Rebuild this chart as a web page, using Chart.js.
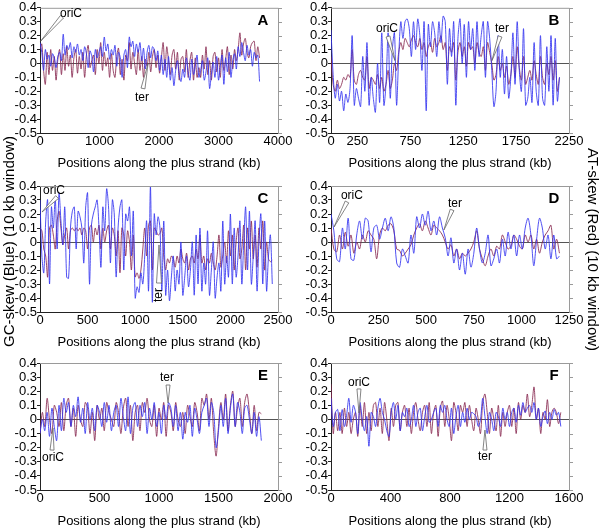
<!DOCTYPE html>
<html>
<head>
<meta charset="utf-8">
<script src="https://cdn.jsdelivr.net/npm/chart.js@4.4.0/dist/chart.umd.min.js"></script>
<style>
  body { margin: 0; width: 600px; height: 529px; background: #fff; position: relative; overflow: hidden;
         font-family: "Liberation Sans", Arial, sans-serif; }
  .panel { position: absolute; }
  .side { position: absolute; font-size: 15px; line-height: 17px; width: 17px; height: 230px;
          writing-mode: vertical-rl; text-align: center; white-space: nowrap; color: #000; }
</style>
</head>
<body>
<div class="panel" style="left:0;top:0;width:300px;height:171px"><canvas id="cA"></canvas></div>
<div class="panel" style="left:300px;top:0;width:300px;height:171px"><canvas id="cB"></canvas></div>
<div class="panel" style="left:0;top:172px;width:300px;height:178px"><canvas id="cC"></canvas></div>
<div class="panel" style="left:300px;top:172px;width:300px;height:178px"><canvas id="cD"></canvas></div>
<div class="panel" style="left:0;top:350px;width:300px;height:179px"><canvas id="cE"></canvas></div>
<div class="panel" style="left:300px;top:350px;width:300px;height:179px"><canvas id="cF"></canvas></div>
<div class="side" style="left:0;top:127px;transform:rotate(180deg)">GC-skew (Blue) (10 kb window)</div>
<div class="side" style="left:585px;top:135px">AT-skew (Red) (10 kb window)</div>
<script>
const BLUE = 'rgba(50,50,240,0.85)';
const RED = 'rgba(135,40,80,0.85)';
const FONT = '"Liberation Sans", Arial, sans-serif';
const X_TITLE = 'Positions along the plus strand (kb)';

const yTickValues = [-0.5, -0.4, -0.3, -0.2, -0.1, 0, 0.1, 0.2, 0.3, 0.4];

// panel A
const xTicksA = [0, 1000, 2000, 3000, 4000];
const stepA = 30;
const gcA = [.15,.08,-.05,.1,.03,.06,-.02,.07,.04,-.03,
  .05,.08,.02,.21,.06,.13,.1,.15,.04,.12,
  .08,.14,.06,.1,.02,.12,.07,-.03,.09,.05,
  -.06,.1,.04,.08,.12,.05,.19,.09,.14,.03,
  .1,.06,.13,-.02,.08,.04,-.1,.06,.1,-.03,
  .19,.12,.16,.05,.14,.08,.15,.02,.11,-.04,
  .08,.13,.04,.12,.1,.02,.09,-.05,.06,-.08,
  .03,-.1,.05,-.12,-.03,-.16,-.05,.02,-.08,-.13,
  -.04,-.1,.04,-.06,-.12,.03,-.08,-.02,.06,-.1,
  -.05,.02,-.12,-.06,.04,-.18,-.08,.01,-.1,.05,
  -.12,-.02,.06,-.15,.04,-.06,.08,-.1,.02,.07,
  -.04,.12,.05,.15,.08,.02,.13,.06,.1,-.02,
  .08,.04,.06,-.13];
const atA = [.1,.14,-.05,-.15,.08,-.08,.1,-.05,.05,-.12,
  .03,.1,-.08,.07,-.05,.12,-.02,.06,-.1,.04,
  .1,-.07,.05,-.04,.08,-.1,.06,.13,-.03,.02,
  .06,-.08,.1,0,.15,-.05,.08,-.02,.04,-.1,
  .07,-.05,-.1,.05,.11,-.08,.03,-.12,.06,.02,
  .15,-.04,.08,0,-.08,.1,-.05,.05,-.1,.03,
  -.02,.08,-.06,.05,.1,-.03,.06,-.07,.04,.15,
  -.05,.12,.02,-.08,.06,.1,-.04,.08,-.12,.03,
  .05,-.06,.1,-.1,.02,.08,-.12,.04,-.1,-.03,
  -.1,.06,-.04,.12,-.08,.02,-.12,.05,.08,-.06,
  .04,-.1,.1,-.05,.03,.12,-.08,.06,-.04,.1,
  .02,.1,.22,.06,.14,.18,.08,.04,.12,.15,
  .16,.02,.12,.04];

// panel B
const xTicksB = [0, 250, 750, 1250, 1750, 2250];
const stepB = 20;
const gcB = [.24,-.08,-.25,-.15,-.27,-.2,-.34,-.22,-.28,-.18,
  .2,-.3,-.18,-.25,-.31,.05,-.2,.15,-.3,-.1,
  -.25,-.35,0,-.28,.22,-.3,-.15,.22,-.25,.1,
  .22,-.3,.05,.3,.18,.3,.32,.25,.05,.3,
  .1,.32,.2,-.05,.3,-.34,.28,.12,.3,.22,
  .05,.3,.15,.34,.3,-.15,.25,.05,.3,-.3,
  .18,.32,0,.28,-.1,.3,.1,.25,-.05,.3,
  .05,.2,.3,-.1,.3,.18,-.05,-.31,-.2,.2,
  -.1,.1,-.22,.05,-.25,-.1,.22,-.15,.3,-.05,
  -.2,.25,-.3,-.25,-.1,-.28,.15,-.2,-.3,.2,
  -.25,-.3,.12,-.2,.2,-.3,.18,-.27,-.1];
const atB = [.05,-.15,-.2,-.12,-.18,-.15,-.1,-.12,-.08,-.1,
  .1,-.12,-.15,-.08,-.05,-.1,-.12,.05,-.18,-.1,
  -.12,-.15,-.08,-.18,-.1,-.2,-.15,-.05,-.18,-.12,
  0,-.05,.08,.15,.1,.18,.15,.12,.17,.2,
  .15,.12,.18,.1,.15,.05,.12,.15,.08,.18,
  .12,.15,.2,.1,.15,-.05,.12,.08,.15,-.12,
  .08,.15,.05,.12,-.02,.15,.1,.12,0,.15,
  .08,.05,.12,-.05,.15,.08,0,-.12,-.08,.05,
  -.05,0,-.1,-.02,-.15,-.08,.05,-.1,.12,-.03,
  -.12,.05,-.15,-.1,-.05,-.12,.02,-.08,-.15,.05,
  -.1,-.15,0,-.08,.05,-.12,.02,-.2,-.1];

// panel C
const xTicksC = [0, 500, 1000, 1500, 2000, 2500];
const stepC = 20;
const gcC = [.3,-.1,-.22,.15,.3,-.3,.25,.1,.32,-.05,
  .35,.15,-.02,.25,-.25,-.26,.1,.22,.25,-.05,
  .22,.18,.1,-.15,.25,.35,-.3,.12,.2,.25,
  .3,.1,-.18,.25,.08,.38,.25,-.15,.3,.2,
  -.25,.1,.25,.3,-.2,.2,.15,.25,-.1,.22,
  -.4,-.32,-.36,-.22,-.3,-.1,.15,-.35,.4,-.43,
  .2,.05,.18,.1,-.35,.15,-.38,-.2,-.42,-.25,
  -.1,-.35,-.2,-.3,0,-.38,-.25,-.1,-.32,-.2,
  0,-.38,.05,-.3,.1,-.35,-.15,-.3,.08,-.38,
  -.2,0,-.4,-.25,-.15,-.35,.15,-.3,-.1,-.25,
  .2,-.3,.1,-.25,-.1,.15,-.3,0,.25,-.2,
  .22,-.3,-.1,.15,-.35,0,.2,-.3,.15,-.35,
  -.1,.05,-.3];
const atC = [.1,.08,-.05,-.1,-.25,.1,.12,.05,-.05,.15,
  .22,.1,-.02,.05,.1,-.05,.08,.1,.08,.1,
  .08,.1,.05,.1,.08,-.05,.1,.12,0,.1,
  .05,.12,-.05,.1,0,.08,.12,-.05,.1,.05,
  -.1,.08,-.22,.1,.05,-.1,.08,0,-.2,.05,
  -.25,-.22,-.26,-.2,-.05,.1,-.1,.12,.15,-.2,
  .1,.08,.05,.06,.1,-.1,-.2,-.12,-.15,-.1,
  -.12,-.18,-.1,-.15,-.05,-.12,-.15,-.08,-.2,-.12,
  -.1,-.15,-.05,-.12,.05,-.15,-.1,-.2,-.12,-.15,
  -.08,-.15,-.2,-.1,.05,-.18,-.1,0,-.15,.08,
  -.1,.05,-.2,0,.1,-.12,-.05,.12,-.2,.1,
  -.05,.15,-.12,.05,-.18,.1,-.05,.15,-.2,0,
  -.12,-.14,-.13];

// panel D
const xTicksD = [0, 250, 500, 750, 1000, 1250];
const stepD = 15;
const gcD = [.2,.08,-.12,-.14,.1,-.05,.17,-.12,-.13,.05,
  .15,.02,.17,.15,-.07,.1,.12,.02,.1,.17,
  .08,.18,.1,-.15,-.18,-.05,-.1,-.15,.05,-.08,
  .18,.1,.2,.12,.22,.08,.15,.05,.18,.1,
  .03,-.1,.03,-.15,-.05,-.2,-.08,-.23,-.05,-.18,
  -.08,.1,-.05,-.15,-.08,.05,-.17,-.12,-.05,-.15,
  .02,-.1,.07,-.05,.05,-.1,.05,-.05,.1,.17,
  .05,-.17,.02,.17,.1,-.05,.05,-.12,.05,-.12,
  -.1];
const atD = [.1,-.05,-.07,.05,-.05,.07,-.03,.05,-.08,0,
  -.05,.05,0,.08,.05,.02,-.12,.05,.1,.08,
  .12,.13,.08,-.05,-.06,-.1,-.08,-.05,-.02,.05,
  .1,.13,.08,.15,.1,.05,.12,.1,.08,.05,
  0,-.05,-.02,-.1,-.05,-.12,-.08,-.1,-.08,-.05,
  0,.08,-.05,-.12,-.17,-.1,-.05,-.1,-.03,-.05,
  .05,0,-.05,-.03,.05,.02,-.03,-.05,.05,0,
  .05,-.05,.02,-.08,0,.05,.08,.12,-.05,.02,
  -.08];

// panel E
const xTicksE = [0, 500, 1000, 1500, 2000];
const stepE = 20;
const gcE = [-.1,0,-.08,.05,-.12,.08,-.05,-.15,.1,-.08,
  .15,.05,.12,-.05,.1,.02,.16,-.02,.08,-.1,
  .12,0,.08,-.08,.1,.05,-.05,.12,-.02,.1,
  -.08,.05,.1,-.05,.15,.02,-.08,.16,-.1,.08,
  .12,-.05,.1,.02,.12,-.1,.08,0,.12,-.05,
  .05,-.1,.1,0,.12,.08,-.05,.1,-.08,.05,
  -.14,.05,-.02,.1,-.12,.08,0,-.1,.05,.1,
  .15,-.05,.12,.05,-.2,-.08,.1,-.05,.15,-.1,
  .08,.18,-.05,.12,.05,-.1,.08,.1,0,-.1,
  .05,-.12,.02,-.15];
const atE = [-.1,.05,-.05,.15,0,-.1,.1,.05,-.05,.12,
  -.08,.1,.15,-.05,.08,-.12,.1,0,-.05,.12,
  .08,-.1,.05,-.15,.1,0,.08,-.08,.12,.05,
  0,-.05,.12,.05,-.1,.08,.15,-.05,.1,-.15,
  .05,.1,-.08,.12,.05,.15,0,-.05,.1,-.12,
  .08,0,.12,-.12,.1,.05,-.08,.12,0,-.05,
  .05,-.1,.1,.02,-.05,.12,.05,-.08,.15,.1,
  .18,0,.15,-.1,-.26,-.05,.12,0,.18,-.08,
  .1,.2,-.05,.08,.15,-.05,.12,.18,.05,-.1,
  .1,-.08,.05,.04];

// panel F
const xTicksF = [0, 400, 800, 1200, 1600];
const stepF = 15;
const gcF = [.15,-.05,.05,.07,-.08,.07,-.05,.03,.15,-.02,
  .1,.05,-.1,.12,0,-.08,.02,-.19,.05,.02,
  -.05,.08,.15,.05,0,-.08,-.12,.05,.12,0,
  .1,-.08,.05,.02,.08,-.05,0,.1,-.05,.05,
  .08,-.08,.02,.1,-.02,0,.05,.08,-.05,.1,
  .05,.1,0,-.05,.08,-.1,.02,.1,-.05,.05,
  -.02,.08,0,.05,.04,.02,-.05,0,.15,.02,
  -.1,.05,0,-.08,.05,.02,-.05,.08,0,.05,
  -.05,.05,.08,-.02,.1,.03,.12,.05,.08,.1,
  .05,.12,0,.08,-.05,.02,.06,-.03,.05,0,
  .07,.03,.05,-.05];
const atF = [.25,-.1,.05,-.08,.05,-.1,.08,-.05,.05,-.1,
  0,.05,-.12,.1,-.05,.12,-.1,.05,-.08,.1,
  .12,-.05,.08,-.1,.12,0,-.15,.08,-.05,.1,
  .12,-.08,.05,.1,-.05,.08,-.1,.05,.12,0,
  -.08,.05,.1,-.05,.12,-.1,.05,.1,-.12,.08,
  .13,-.05,.1,0,-.15,.12,.05,-.08,.1,.05,
  .12,-.05,.1,0,-.08,.08,0,-.1,.12,.18,
  .05,-.1,.08,0,-.08,.1,-.12,.05,-.05,.05,
  .1,-.05,.08,-.1,.12,0,.1,.05,.18,.02,
  .1,.23,0,.08,-.1,.05,0,.14,-.05,.05,
  .08,.05,-.03,.05];

function toXY(step, values) {
  return values.map((v, i) => ({ x: i * step, y: v }));
}

function callout(ctx, x0, y0, x1, y1, w) {
  const dx = x1 - x0, dy = y1 - y0, len = Math.hypot(dx, dy);
  const nx = -dy / len * w / 2, ny = dx / len * w / 2;
  ctx.beginPath();
  ctx.moveTo(x0 + nx, y0 + ny);
  ctx.lineTo(x1, y1);
  ctx.lineTo(x0 - nx, y0 - ny);
  ctx.closePath();
  ctx.fillStyle = '#fff';
  ctx.fill();
  ctx.strokeStyle = '#666';
  ctx.lineWidth = 0.8;
  ctx.stroke();
}

const framePlugin = {
  id: 'frame',
  afterDraw(chart, args, opts) {
    const { ctx, chartArea: a, scales: { x, y } } = chart;
    ctx.save();
    ctx.strokeStyle = '#9a9a9a';
    ctx.lineWidth = 1;
    ctx.beginPath();
    ctx.moveTo(a.left, a.top + 0.5);
    ctx.lineTo(a.right + 0.5, a.top + 0.5);
    ctx.lineTo(a.right + 0.5, a.bottom);
    y.ticks.forEach(t => {
      const py = Math.round(y.getPixelForValue(t.value)) + 0.5;
      ctx.moveTo(a.right, py);
      ctx.lineTo(a.right + 4, py);
    });
    ctx.stroke();

    (opts.notes || []).forEach(n => {
      callout(ctx, x.getPixelForValue(n.tail[0]), y.getPixelForValue(n.tail[1]),
              x.getPixelForValue(n.tip[0]), y.getPixelForValue(n.tip[1]), n.w || 4);
      const lx = x.getPixelForValue(n.label[0]), ly = y.getPixelForValue(n.label[1]);
      ctx.save();
      ctx.translate(lx, ly);
      if (n.rotate) ctx.rotate(-Math.PI / 2);
      ctx.fillStyle = '#000';
      ctx.font = '12px ' + FONT;
      ctx.textAlign = 'center';
      ctx.textBaseline = 'middle';
      ctx.fillText(n.text, 0, 0);
      ctx.restore();
    });

    ctx.fillStyle = '#000';
    ctx.font = 'bold 15px ' + FONT;
    ctx.textAlign = 'center';
    ctx.textBaseline = 'middle';
    ctx.fillText(opts.letter, a.right - 15, a.top + 13);
    ctx.restore();
  }
};

function makePanel(id, p) {
  new Chart(document.getElementById(id), {
    type: 'line',
    data: {
      datasets: [
        { label: 'GC-skew', data: toXY(p.step, p.gc), borderColor: BLUE, borderWidth: 1,
          pointRadius: 0, tension: 0.3, fill: false },
        { label: 'AT-skew', data: toXY(p.step, p.at), borderColor: RED, borderWidth: 1,
          pointRadius: 0, tension: 0.3, fill: false }
      ]
    },
    options: {
      animation: false,
      responsive: true,
      maintainAspectRatio: false,
      events: [],
      layout: { padding: { top: p.padTop, right: p.padRight, left: 0, bottom: 0 } },
      plugins: {
        legend: { display: false },
        tooltip: { enabled: false },
        frame: { letter: p.letter, notes: p.notes }
      },
      scales: {
        x: {
          type: 'linear', min: 0, max: p.xMax,
          afterBuildTicks: s => { s.ticks = p.xTicks.map(v => ({ value: v })); },
          afterFit: s => { s.height = p.xH; },
          ticks: { padding: 1, maxRotation: 0, autoSkip: false, color: '#000',
                   font: { family: FONT, size: 13 }, callback: v => String(v) },
          grid: { display: false, drawTicks: false },
          border: { display: true, color: '#222', width: 1 },
          title: { display: true, text: X_TITLE, color: '#000', padding: 0,
                   font: { family: FONT, size: 13 } }
        },
        y: {
          min: -0.5, max: 0.4,
          afterBuildTicks: s => { s.ticks = yTickValues.map(v => ({ value: v })); },
          afterFit: s => { s.width = p.yW; },
          ticks: { padding: 0, autoSkip: false, color: '#000', font: { family: FONT, size: 13 },
                   callback: v => (v === 0 ? '0' : v.toFixed(1)) },
          grid: { drawTicks: true, tickLength: 3, tickColor: '#222',
                  color: c => (c.tick && c.tick.value === 0 ? '#555' : 'rgba(0,0,0,0)') },
          border: { display: true, color: '#222', width: 1 }
        }
      }
    },
    plugins: [framePlugin]
  });
}

const leftCol = { yW: 40, padRight: 22 };
const rightCol = { yW: 31, padRight: 31 };

makePanel('cA', { ...leftCol, padTop: 6, xH: 38, letter: 'A', xMax: 4000, xTicks: xTicksA,
  step: stepA, gc: gcA, at: atA,
  notes: [
    { text: 'oriC', tip: [10, 0.16], tail: [370, 0.336], label: [521, 0.357] },
    { text: 'ter', tip: [1815, -0.004], tail: [1731, -0.18], label: [1714, -0.245] }
  ] });
makePanel('cB', { ...rightCol, padTop: 6, xH: 38, letter: 'B', xMax: 2250, xTicks: xTicksB,
  step: stepB, gc: gcB, at: atB,
  notes: [
    { text: 'oriC', tip: [605, 0.02], tail: [539, 0.194], label: [529, 0.251] },
    { text: 'ter', tip: [1522, 0.02], tail: [1598, 0.194], label: [1617, 0.251] }
  ] });
makePanel('cC', { ...leftCol, padTop: 14, xH: 38, letter: 'C', xMax: 2500, xTicks: xTicksC,
  step: stepC, gc: gcC, at: atC,
  notes: [
    { text: 'oriC', tip: [21, 0.214], tail: [179, 0.321], label: [147, 0.364] },
    { text: 'ter', tip: [1250, -0.021], tail: [1250, -0.293], label: [1250, -0.379], rotate: true, w: 5 }
  ] });
makePanel('cD', { ...rightCol, padTop: 14, xH: 38, letter: 'D', xMax: 1250, xTicks: xTicksD,
  step: stepD, gc: gcD, at: atD,
  notes: [
    { text: 'oriC', tip: [16, 0.107], tail: [84, 0.286], label: [110, 0.329] },
    { text: 'ter', tip: [593, 0.086], tail: [636, 0.229], label: [651, 0.271] }
  ] });
makePanel('cE', { ...leftCol, padTop: 13, xH: 39, letter: 'E', xMax: 2000, xTicks: xTicksE,
  step: stepE, gc: gcE, at: atE,
  notes: [
    { text: 'oriC', tip: [109, -0.061], tail: [101, -0.217], label: [109, -0.274] },
    { text: 'ter', tip: [1076, 0.117], tail: [1076, 0.244], label: [1067, 0.294] }
  ] });
makePanel('cF', { ...rightCol, padTop: 13, xH: 39, letter: 'F', xMax: 1600, xTicks: xTicksF,
  step: stepF, gc: gcF, at: atF,
  notes: [
    { text: 'oriC', tip: [188, 0.046], tail: [188, 0.216], label: [188, 0.258] },
    { text: 'ter', tip: [1035, -0.075], tail: [1035, -0.217], label: [1035, -0.266] }
  ] });
</script>
</body>
</html>
